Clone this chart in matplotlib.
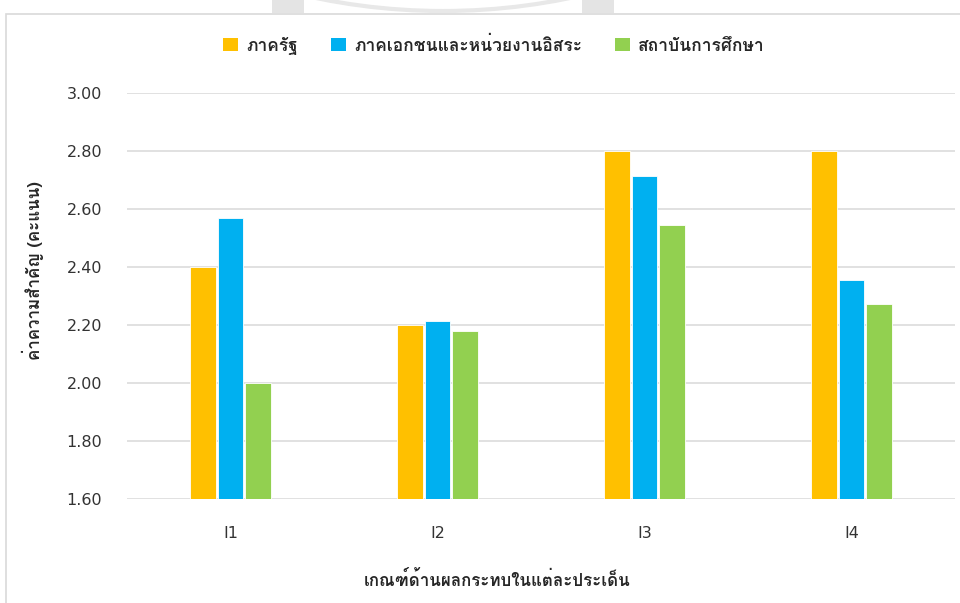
import matplotlib
matplotlib.use("Agg")
import matplotlib.pyplot as plt
from matplotlib import font_manager
from matplotlib.ft2font import FT2Font
from matplotlib.patches import Rectangle, Patch, Arc
import numpy as np

# ---- data ----
categories = ["I1", "I2", "I3", "I4"]
series_names = ["ภาครัฐ", "ภาคเอกชนและหน่วยงานอิสระ", "สถาบันการศึกษา"]
government = [2.40, 2.20, 2.80, 2.80]
private_independent = [2.571, 2.214, 2.714, 2.357]
academic = [2.000, 2.182, 2.545, 2.273]
y_ticks = [1.60, 1.80, 2.00, 2.20, 2.40, 2.60, 2.80, 3.00]
x_title = "เกณฑ์ด้านผลกระทบในแต่ละประเด็น"
y_title = "ค่าความสำคัญ (คะแนน)"

colors = ["#FFC000", "#00B0F0", "#92D050"]


def thai_family():
    """First installed font that carries Thai glyphs."""
    for f in font_manager.fontManager.ttflist:
        try:
            cmap = FT2Font(f.fname).get_charmap()
        except Exception:
            continue
        if 0x0E20 in cmap and 0x0E01 in cmap and f.weight in (400, "normal", "regular"):
            return f.name
    for f in font_manager.fontManager.ttflist:
        try:
            if 0x0E20 in FT2Font(f.fname).get_charmap():
                return f.name
        except Exception:
            continue
    return "DejaVu Sans"


THAI = thai_family()
FAMILY = [THAI, "DejaVu Sans"]
plt.rcParams["font.family"] = FAMILY

W, H = 960, 603
fig = plt.figure(figsize=(W / 100, H / 100), dpi=100)
fig.patch.set_facecolor("white")


def fx(px):
    return px / W


def fy(py):
    return 1 - py / H


# chart frame and faint emblem at the top edge
fig.add_artist(Rectangle((fx(6), fy(700)), 1.2, (700 - 13.5) / H, transform=fig.transFigure,
                         facecolor="none", edgecolor="#d9d9d9", linewidth=1.2, zorder=5))
for x0, x1 in [(272, 304), (582, 614)]:
    fig.add_artist(Rectangle((fx(x0), fy(13)), fx(x1 - x0), 13 / H, transform=fig.transFigure,
                             facecolor="#e4e4e4", edgecolor="none", linewidth=0))
R = 628
fig.add_artist(Arc((fx(443), fy(-617)), 2 * R / W, 2 * R / H, theta1=250, theta2=290,
                   transform=fig.transFigure, color="#e8e8e8", linewidth=3))

ax = fig.add_axes([fx(127), fy(499.3), fx(955 - 127), (499.3 - 93.3) / H])

x = np.arange(len(categories))
step = 0.133
width = 0.125
for i, (vals, c) in enumerate(zip([government, private_independent, academic], colors)):
    ax.bar(x + (i - 1) * step, np.array(vals) - 1.6, width, bottom=1.6, color=c,
           edgecolor="white", linewidth=0.6, zorder=3)

ax.set_xlim(-0.5, len(categories) - 0.5)
ax.set_ylim(1.6, 3.0)
ax.set_yticks(y_ticks)
ax.set_yticklabels([f"{v:.2f}" for v in y_ticks])
ax.set_xticks(x)
ax.set_xticklabels(categories)
ax.yaxis.grid(True, color="#d9d9d9", linewidth=1.1, zorder=0)
ax.set_axisbelow(True)
for s in ax.spines.values():
    s.set_visible(False)
ax.tick_params(axis="both", length=0, labelsize=11.5, colors="#333333")
ax.tick_params(axis="y", pad=18)
ax.tick_params(axis="x", pad=19)
for lbl in ax.get_xticklabels() + ax.get_yticklabels():
    lbl.set_family(["DejaVu Sans"])

fig.text(fx(33), fy(271), y_title, rotation=90, ha="center", va="center",
         fontsize=12.2, color="#262626", fontweight="bold")
fig.text(fx(497), fy(580), x_title, ha="center", va="center",
         fontsize=12.2, color="#262626", fontweight="bold")

handles = [Patch(facecolor=c, edgecolor="none") for c in colors]
leg = fig.legend(handles, series_names, loc="center", bbox_to_anchor=(fx(494), fy(45)),
                 ncol=3, frameon=False, handlelength=0.86, handleheight=0.8,
                 handletextpad=0.46, columnspacing=1.9,
                 prop={"family": FAMILY, "size": 12.5, "weight": "bold"})
for t in leg.get_texts():
    t.set_color("#262626")

fig.savefig("out.png", dpi=100, facecolor="white")
